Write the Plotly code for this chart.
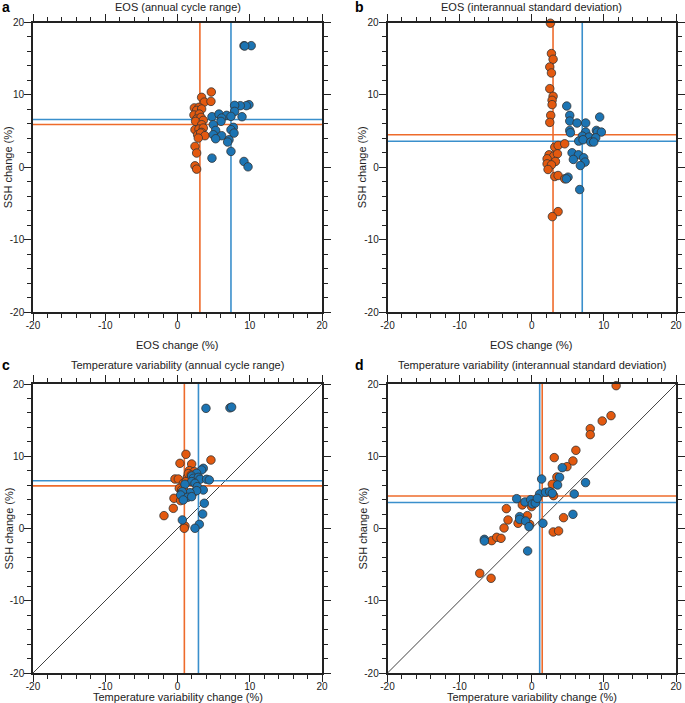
import plotly.graph_objects as go

W, H = 685, 703

# ---------------- data ----------------
# Panel a: EOS (annual cycle range) change vs SSH change
a_orange_x = [3.34, 4.68, 3.71, 4.63, 2.33, 2.97, 2.65, 3.34, 2.28, 3.02, 2.65, 3.25, 2.51, 3.57,
              3.34, 2.42, 2.97, 3.57, 3.34, 2.79, 3.2, 3.8, 2.88, 2.42, 2.65, 2.42, 2.65]
a_orange_y = [9.66, 10.4, 9.0, 9.1, 8.2, 8.28, 7.86, 8.05, 7.22, 7.35, 6.66, 6.89, 6.34, 6.48,
              5.88, 5.19, 5.28, 5.42, 4.82, 4.49, 4.72, 4.36, 4.03, 2.88, 1.96, 0.2, -0.26]
a_blue_x = [9.2, 10.2, 9.3, 9.89, 9.52, 8.69, 7.91, 7.91, 8.93, 4.77, 5.74, 6.8, 7.4, 6.11, 6.02,
            4.96, 7.73, 7.4, 5.28, 7.82, 4.96, 6.11, 5.28, 7.13, 6.94, 7.4, 4.77, 9.2, 9.76]
a_blue_y = [16.8, 16.8, 16.75, 8.65, 8.51, 8.51, 8.55, 7.72, 6.98, 6.98, 7.35, 7.17, 7.03, 6.8, 6.34,
            5.88, 5.51, 5.19, 5.09, 4.72, 4.49, 4.36, 3.94, 3.8, 3.48, 2.19, 1.26, 0.8, 0.06]

# Panel b: EOS (interannual standard deviation)
b_orange_x = [2.59, 2.73, 2.96, 2.5, 2.73, 2.5, 2.96, 2.82, 2.82, 2.63, 2.5, 3.19, 3.65, 4.57,
              2.4, 3.05, 3.56, 2.13, 3.28, 2.13, 2.73, 2.26, 3.19, 3.65, 4.57, 3.65, 2.86]
b_orange_y = [19.9, 15.71, 14.92, 13.86, 13.03, 10.86, 9.8, 9.25, 8.65, 7.17, 6.2, 2.78, 3.01, 3.24,
              1.72, 1.54, 1.86, 1.17, 0.8, 0.47, 0.33, -0.31, -1.28, -1.14, -1.6, -6.13, -6.82]
b_blue_x = [4.85, 5.27, 5.27, 6.28, 7.48, 9.42, 5.27, 5.36, 7.48, 8.96, 9.1, 9.65, 7.02, 7.94,
            8.87, 6.51, 7.11, 8.17, 8.59, 5.59, 6.47, 7.2, 5.77, 7.39, 6.74, 5.03, 4.8, 6.65]
b_blue_y = [8.46, 7.17, 6.38, 6.11, 6.11, 6.94, 5.09, 4.77, 4.86, 5.09, 4.86, 4.86, 4.31, 4.17,
            4.07, 3.61, 3.8, 3.48, 3.48, 2.0, 1.72, 1.31, 1.08, 0.71, 0.24, -1.37, -1.6, -3.08]

# Panel c: Temperature variability (annual cycle range)
c_orange_x = [1.17, 0.34, 1.96, 4.63, 1.63, 2.33, -0.35, 0.11, 1.36, 0.8, 1.17, 0.25, 0.57, 1.03,
              2.65, 2.1, -0.49, 0.43, 0.9, -0.58, -1.87, 1.03, 0.94, 1.5, 0.6, 1.9]
c_orange_y = [10.27, 9.02, 8.93, 9.48, 8.01, 7.87, 6.85, 6.85, 7.08, 6.25, 6.49, 5.56, 5.33, 5.1,
              5.33, 4.87, 4.18, 3.86, 4.5, 2.79, 1.78, 0.35, 0.03, 7.6, 4.9, 7.4]
c_blue_x = [3.94, 7.26, 7.49, 3.57, 3.34, 2.65, 1.96, 2.19, 2.88, 3.11, 4.03, 4.4, 1.96, 2.42,
            1.03, 2.74, 3.57, 2.65, 1.73, 0.67, 0.43, 1.4, 1.96, 0.8, 3.71, 3.48, 0.67, 3.02, 2.42]
c_blue_y = [16.63, 16.7, 16.8, 8.33, 8.1, 7.64, 7.27, 6.95, 7.08, 6.81, 6.81, 6.72, 6.49, 6.25,
            6.12, 5.79, 5.33, 5.24, 4.96, 5.1, 4.64, 4.32, 4.41, 3.95, 3.49, 2.01, 1.18, 0.58, 0.03]

# Panel d: Temperature variability (interannual standard deviation)
d_orange_x = [11.7, 10.99, 9.77, 8.11, 8.11, 6.12, 5.71, 3.12, 4.88, 3.49, 2.85, 3.03, -1.31, -0.02,
              -3.52, -0.61, -3.29, -1.9, -0.29, -3.84, 4.41, 2.98, 3.72, -5.55, -4.86, -4.26, -7.21, -5.64]
d_orange_y = [19.77, 15.62, 14.88, 13.82, 12.99, 10.82, 9.35, 9.81, 8.56, 7.13, 6.12, 4.55, 3.26, 3.03,
              2.75, 1.78, 1.18, 0.72, 0.58, 0.07, 1.5, -0.48, -0.34, -1.68, -1.22, -1.36, -6.2, -6.89]
d_blue_x = [4.23, 3.86, 3.58, 1.37, 7.46, 1.09, 1.92, 2.48, 2.85, 5.89, -2.09, -0.94, -0.15, 0.08,
            0.49, 0.77, 5.71, -1.68, -1.68, -0.85, -0.38, 1.55, -6.57, -6.57, -0.57]
d_blue_y = [8.42, 7.09, 6.02, 6.85, 6.35, 4.78, 5.01, 5.1, 4.87, 4.78, 4.13, 3.67, 3.99, 3.4,
            3.53, 4.18, 1.96, 1.64, 1.27, 1.04, 0.26, 0.72, -1.5, -1.73, -3.11]

# Multi-model means (vertical = x mean, horizontal = y mean)
mean_x_orange = [3.1, 2.95, 0.95, 1.45]
mean_x_blue = [7.4, 7.0, 2.9, 1.1]
mean_y_orange = [5.9, 4.5, 5.9, 4.5]
mean_y_blue = [6.6, 3.6, 6.6, 3.6]

titles = ["EOS (annual cycle range)", "EOS (interannual standard deviation)",
          "Temperature variability (annual cycle range)",
          "Temperature variability (interannual standard deviation)"]
letters = ["a", "b", "c", "d"]
xlabels = ["EOS change (%)", "EOS change (%)",
           "Temperature variability change (%)", "Temperature variability change (%)"]
ylabel = "SSH change (%)"
tick_vals = [-20, -10, 0, 10, 20]
tick_text = ["-20", "-10", "0", "10", "20"]
axis_range = [-20, 20]
diag = [-20, 20]

# ---------------- styling ----------------
ORANGE = "#E3590F"
BLUE = "#1C74B3"
ORANGE_LINE = "#EE6B2B"
BLUE_LINE = "#3A8FCC"
FONT = "Liberation Sans, Arial, sans-serif"
AX = "#222222"

# pixel layout of plot areas
px_x = [(33, 322), (387.5, 676), (33, 322), (387.5, 676)]
px_y = [(22.5, 312), (22.5, 312), (384, 673), (384, 673)]

fig = go.Figure()
panels = [
    (a_orange_x, a_orange_y, a_blue_x, a_blue_y, False),
    (b_orange_x, b_orange_y, b_blue_x, b_blue_y, False),
    (c_orange_x, c_orange_y, c_blue_x, c_blue_y, True),
    (d_orange_x, d_orange_y, d_blue_x, d_blue_y, True),
]

annotations = []
for i, (ox, oy, bx, by, has_diag) in enumerate(panels):
    xa = "x" if i == 0 else f"x{i+1}"
    ya = "y" if i == 0 else f"y{i+1}"
    line_kw = dict(xaxis=xa, yaxis=ya, mode="lines", showlegend=False, hoverinfo="skip")
    if has_diag:
        fig.add_trace(go.Scatter(x=diag, y=diag, line=dict(color="#111111", width=0.8), **line_kw))
    fig.add_trace(go.Scatter(x=[mean_x_orange[i]] * 2, y=axis_range, line=dict(color=ORANGE_LINE, width=1.6), **line_kw))
    fig.add_trace(go.Scatter(x=[mean_x_blue[i]] * 2, y=axis_range, line=dict(color=BLUE_LINE, width=1.6), **line_kw))
    fig.add_trace(go.Scatter(x=axis_range, y=[mean_y_orange[i]] * 2, line=dict(color=ORANGE_LINE, width=1.6), **line_kw))
    fig.add_trace(go.Scatter(x=axis_range, y=[mean_y_blue[i]] * 2, line=dict(color=BLUE_LINE, width=1.6), **line_kw))
    mk = dict(size=8.5, line=dict(color="#333333", width=0.8))
    fig.add_trace(go.Scatter(x=ox, y=oy, xaxis=xa, yaxis=ya, mode="markers", showlegend=False,
                             marker=dict(color=ORANGE, **mk), cliponaxis=False))
    fig.add_trace(go.Scatter(x=bx, y=by, xaxis=xa, yaxis=ya, mode="markers", showlegend=False,
                             marker=dict(color=BLUE, **mk), cliponaxis=False))

    x0, x1 = px_x[i]
    y0, y1 = px_y[i]
    axcommon = dict(range=axis_range, tickvals=tick_vals, ticktext=tick_text, showgrid=False,
                    zeroline=False, showline=True, linecolor=AX, linewidth=1.6, mirror="ticks",
                    ticks="outside", ticklen=7, tickwidth=1.2, tickcolor=AX,
                    tickfont=dict(family=FONT, size=10, color=AX),
                    minor=dict(dtick=2, ticks="outside", ticklen=4, tickwidth=1, tickcolor=AX),
                    fixedrange=True, automargin=False)
    fig.layout[("xaxis" if i == 0 else f"xaxis{i+1}")] = dict(
        domain=[x0 / W, x1 / W], anchor=ya, ticklabelstandoff=-4, **axcommon)
    fig.layout[("yaxis" if i == 0 else f"yaxis{i+1}")] = dict(
        domain=[1 - y1 / H, 1 - y0 / H], anchor=xa, ticklabelstandoff=-2, **axcommon)

    cx = (x0 + x1) / 2
    cy = (y0 + y1) / 2
    title_y = 7.5 if i < 2 else 365
    annotations.append(dict(text=titles[i], x=cx / W, y=1 - title_y / H, xref="paper", yref="paper",
                            xanchor="center", yanchor="middle", showarrow=False,
                            font=dict(family=FONT, size=11, color=AX)))
    annotations.append(dict(text=f"<b>{letters[i]}</b>", x=(0 if i % 2 == 0 else 352.5) / W,
                            y=1 - title_y / H, xref="paper", yref="paper",
                            xanchor="left", yanchor="middle", showarrow=False,
                            font=dict(family=FONT, size=14, color="#000000")))
    xt_y = 345 if i < 2 else 697
    annotations.append(dict(text=xlabels[i], x=cx / W, y=1 - xt_y / H, xref="paper", yref="paper",
                            xanchor="center", yanchor="middle", showarrow=False,
                            font=dict(family=FONT, size=11, color=AX)))
    yt_x = 8 if i % 2 == 0 else 362
    annotations.append(dict(text=ylabel, x=yt_x / W, y=1 - cy / H, xref="paper", yref="paper",
                            xanchor="center", yanchor="middle", showarrow=False, textangle=-90,
                            font=dict(family=FONT, size=11, color=AX)))

fig.update_layout(width=W, height=H, margin=dict(l=0, r=0, t=0, b=0, pad=0, autoexpand=False),
                  paper_bgcolor="white", plot_bgcolor="white", annotations=annotations,
                  font=dict(family=FONT))
fig.write_html("out.html", config={"displayModeBar": False},
               post_script="document.body.style.margin='0';document.body.style.overflow='hidden';")
